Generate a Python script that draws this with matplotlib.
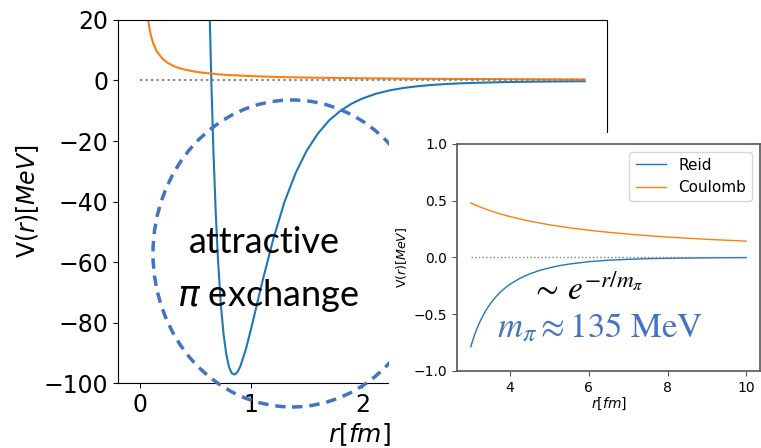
import numpy as np
import matplotlib.pyplot as plt
from matplotlib.patches import Ellipse, Rectangle

# Reid potential (r in fm, V in MeV)
reid_r = [0.60, 0.62, 0.64, 0.66, 0.68, 0.70, 0.725, 0.75, 0.775, 0.80, 0.825, 0.85,
          0.875, 0.90, 0.95, 1.0, 1.1, 1.2, 1.3, 1.4, 1.5, 1.6, 1.7, 1.8, 1.9, 2.0,
          2.125, 2.25, 2.375, 2.5, 2.625, 2.75, 2.875, 3.0, 3.25, 3.5, 3.75, 4.0]
reid_v = [67.2, 30.0, 0.1, -24.2, -43.7, -59.0, -73.6, -83.8, -90.5, -94.8, -96.8, -97.2,
          -96.4, -94.6, -89.0, -81.8, -66.4, -52.1, -40.0, -30.5, -23.1, -17.5, -13.2, -10.1,
          -7.71, -5.95, -4.35, -3.23, -2.44, -1.88, -1.47, -1.18, -0.95, -0.79, -0.55, -0.41,
          -0.31, -0.24]
coul_r = [0.06, 0.07, 0.08, 0.09, 0.1, 0.12, 0.15, 0.2, 0.25, 0.3, 0.35, 0.4, 0.5, 0.6,
          0.7, 0.8, 1.0, 1.25, 1.5, 2.0, 2.5, 3.0, 3.5, 4.0]
coul_v = [24.0, 20.6, 18.0, 16.0, 14.4, 12.0, 9.6, 7.2, 5.76, 4.8, 4.11, 3.6, 2.88, 2.4,
          2.06, 1.8, 1.44, 1.15, 0.96, 0.72, 0.58, 0.48, 0.41, 0.36]

# inset (long range tail)
tail_r = [3.0, 3.05, 3.1, 3.175, 3.25, 3.375, 3.5, 3.625, 3.75, 3.875, 4.0, 4.25, 4.5,
          4.75, 5.0, 5.25, 5.5, 6.0, 6.5, 7.0, 7.5, 8.0, 9.0, 10.0]
tail_reid = [-0.786, -0.730, -0.679, -0.612, -0.554, -0.472, -0.406, -0.351, -0.306,
             -0.268, -0.235, -0.183, -0.144, -0.114, -0.091, -0.072, -0.058, -0.037,
             -0.024, -0.016, -0.0105, -0.007, -0.003, -0.001]
tail_cr = [3.0, 3.25, 3.5, 3.75, 4.0, 4.5, 5.0, 5.5, 6.0, 6.5, 7.0, 7.5, 8.0, 9.0, 10.0]
tail_coul = [0.48, 0.443, 0.411, 0.384, 0.36, 0.32, 0.288, 0.262, 0.24, 0.222, 0.206,
             0.192, 0.18, 0.16, 0.144]

fig = plt.figure(figsize=(7.61, 4.48), dpi=100)

ax = fig.add_axes([0.155, 0.145, 0.6425, 0.8104])
ax.plot(reid_r, reid_v, color='#1f77b4', lw=1.5)
ax.plot(coul_r, coul_v, color='#ff7f0e', lw=1.5)
ax.plot([0, 4], [0, 0], ':', color='gray', lw=1.5)
ax.set_xlim(-0.2, 4.2)
ax.set_ylim(-100, 20)
ax.set_xticks([0, 1, 2])
ax.tick_params(labelsize=17)
ax.set_ylabel('V($r$)[$MeV$]', fontsize=17, labelpad=2)
ax.set_xlabel('$r$[$fm$]', fontsize=18, labelpad=1)
ax.xaxis.set_label_coords(0.494, -0.105)

blue = '#4472C4'
ell = Ellipse((0.3837, 0.4342), 0.3653, 0.6853, transform=fig.transFigure,
              fill=False, edgecolor=blue, lw=2.5, linestyle=(0, (3, 2)), zorder=3)
fig.add_artist(ell)
fig.text(0.348, 0.4576, 'attractive', fontsize=26, family='Lato', ha='center', va='center', zorder=4)
fig.text(0.352, 0.3415, r'$\pi$ exchange', fontsize=26, family='Lato', ha='center', va='center', zorder=4)

# white card behind the inset (stops above the main x label)
fig.add_artist(Rectangle((389 / 761, 1 - 412 / 448), 1, (412 - 133) / 448,
                         transform=fig.transFigure,
                         facecolor='white', edgecolor='none', zorder=5))

ins = fig.add_axes([0.6005, 0.1719, 0.3982, 0.5067], zorder=6)
ins.plot(tail_r, tail_reid, color='#1f77b4', lw=1.0, label='Reid')
ins.plot(tail_cr, tail_coul, color='#ff7f0e', lw=1.0, label='Coulomb')
ins.plot([3, 10], [0, 0], ':', color='gray', lw=1.0)
ins.set_xlim(2.65, 10.35)
ins.set_ylim(-1, 1)
ins.set_xticks([4, 6, 8, 10])
ins.set_yticks([-1.0, -0.5, 0.0, 0.5, 1.0])
ins.tick_params(labelsize=10, color='#555555')
for s in ins.spines.values():
    s.set_color('#555555')
    s.set_linewidth(1.2)
ins.set_ylabel('V($r$)[$MeV$]', fontsize=9, labelpad=3)
ins.set_xlabel('$r$[$fm$]', fontsize=10, labelpad=1)
ins.legend(loc='upper right', fontsize=11)

fig.text(0.772, 0.353, r'$\sim\, e^{-r/m_\pi}$', fontsize=24, math_fontfamily='stix',
         ha='center', va='center', zorder=7)
fig.text(0.788, 0.270, r'$m_\pi \approx 135\ \mathrm{MeV}$', fontsize=25, color=blue,
         math_fontfamily='stix', ha='center', va='center', zorder=7)

fig.savefig('out.png', dpi=100)
